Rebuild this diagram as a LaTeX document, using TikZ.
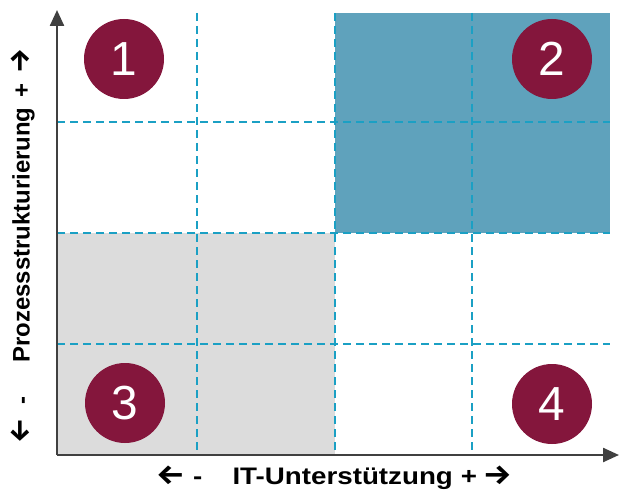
\documentclass[tikz,border=0pt]{standalone}
\usepackage{fontspec}
\setmainfont{Liberation Sans}
\newfontfamily\arrowfont{Fira Sans}
\usetikzlibrary{arrows.meta}

\definecolor{quadblue}{HTML}{5FA2BC}
\definecolor{quadgray}{HTML}{DCDCDC}
\definecolor{gridcyan}{HTML}{1BA0C4}
\definecolor{badgered}{HTML}{84163C}
\definecolor{axisgray}{HTML}{404040}

\newcommand{\leftarr}{{\arrowfont\bfseries\fontsize{28}{28}\selectfont ←}}
\newcommand{\rightarr}{{\arrowfont\bfseries\fontsize{28}{28}\selectfont →}}

\tikzset{
  gridline/.style={gridcyan, line width=1.6bp, dash pattern=on 8bp off 5bp},
  axisline/.style={axisgray, line width=2.4bp, -{Triangle[length=16bp,width=14bp]}},
  badge/.style={circle, fill=badgered, minimum size=80bp, inner sep=0pt,
    text=white, font=\fontsize{48}{50}\selectfont},
  axislabel/.style={font=\fontsize{24}{28}\selectfont\bfseries, inner sep=0pt}
}

\begin{document}
\begin{tikzpicture}[x=1bp, y=-1bp]
    \useasboundingbox (0, 0) rectangle (619, 490);
    \begin{scope}
      % quadrant fills
      \fill[quadblue] (335, 13) rectangle (610, 233);
      \fill[quadgray] (57, 233) rectangle (335, 455);
      % dashed grid
      \foreach \gx in {197, 335, 472}
        \draw[gridline] (\gx, 13) -- (\gx, 455);
      \foreach \gy in {122, 233, 344}
        \draw[gridline] (57, \gy) -- (610, \gy);

      % axes
      \coordinate (origin) at (57, 455);
      \coordinate (ytip) at (57, 10);
      \coordinate (xtip) at (619, 455);
      \draw[axisline] (origin) -- (ytip);
      \draw[axisline] (origin) -- (xtip);

      % numbered quadrants
      \node[badge] (q1) at (124, 59) {1};
      \node[badge] (q2) at (552, 59) {2};
      \node[badge] (q3) at (125, 403) {3};
      \node[badge] (q4) at (552, 404) {4};

      \node[axislabel, xscale=1.16] (itlabel) at (334, 478)
        {\leftarr\hspace{7bp}-\hspace{26bp}IT-Unterstützung\hspace{7bp}+\hspace{5bp}\rightarr};
      \node[axislabel, rotate=90] (prozlabel) at (23, 246)
        {\leftarr\hspace{14bp}-\hspace{34bp}Prozessstrukturierung\hspace{10bp}+\hspace{10bp}\rightarr};
    \end{scope}
\end{tikzpicture}
\end{document}
